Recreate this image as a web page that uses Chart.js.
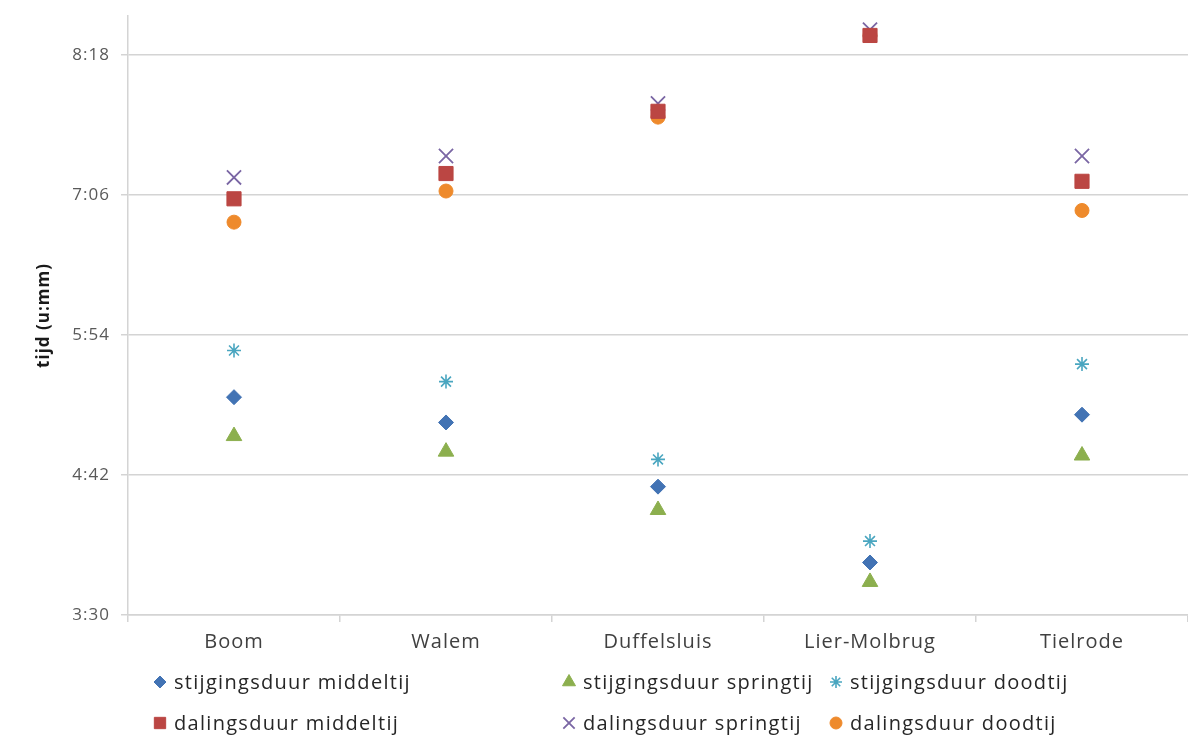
<!DOCTYPE html>
<html>
<head>
<meta charset="utf-8">
<script src="https://cdn.jsdelivr.net/npm/chart.js@4/dist/chart.umd.min.js"></script>
<style>
  html, body { margin: 0; padding: 0; background: #ffffff; }
  #wrap { width: 1188px; height: 747px; }
</style>
</head>
<body>
<div id="wrap"><canvas id="c" width="1188" height="747"></canvas></div>
<script>
// Meetpunten langs de rivier
const categories = ['Boom', 'Walem', 'Duffelsluis', 'Lier-Molbrug', 'Tielrode'];

// Duur in u:mm per meetpunt
const stijgingsduurMiddeltij = ['5:22', '5:09', '4:36', '3:57', '5:13'];
const stijgingsduurSpringtij = ['5:02', '4:54', '4:24', '3:47', '4:52'];
const stijgingsduurDoodtij   = ['5:46', '5:30', '4:50', '4:08', '5:39'];
const dalingsduurMiddeltij   = ['7:04', '7:17', '7:49', '8:28', '7:13'];
const dalingsduurSpringtij   = ['7:15', '7:26', '7:53', '8:31', '7:26'];
const dalingsduurDoodtij     = ['6:52', '7:08', '7:46', '8:28', '6:58'];

// Labels van de verticale as
const yTickLabels = ['3:30', '4:42', '5:54', '7:06', '8:18'];
const axisMin = '3:30';
const axisMax = '8:38';

function toMinutes(s) {
  const [h, m] = s.split(':').map(Number);
  return h * 60 + m;
}
function toLabel(v) {
  const h = Math.floor(v / 60);
  const m = Math.round(v - h * 60);
  return h + ':' + String(m).padStart(2, '0');
}

const FONT = '"Open Sans", "Noto Sans", sans-serif';

const series = [
  { label: 'stijgingsduur middeltij', values: stijgingsduurMiddeltij, style: 'rectRot',  color: '#4273b4', radius: 7.5, border: 1 },
  { label: 'stijgingsduur springtij', values: stijgingsduurSpringtij, style: 'triangle', color: '#8caf4e', radius: 9,   border: 1 },
  { label: 'stijgingsduur doodtij',   values: stijgingsduurDoodtij,   style: 'star',     color: '#4aa6c0', radius: 7,   border: 1.6 },
  { label: 'dalingsduur middeltij',   values: dalingsduurMiddeltij,   style: 'rect',     color: '#bb4643', radius: 10,  border: 1 },
  { label: 'dalingsduur springtij',   values: dalingsduurSpringtij,   style: 'crossRot', color: '#7a66a4', radius: 10,  border: 1.8 },
  { label: 'dalingsduur doodtij',     values: dalingsduurDoodtij,     style: 'circle',   color: '#ee8a2c', radius: 7,   border: 1 }
];

const datasets = series.map(s => ({
  label: s.label,
  data: s.values.map(toMinutes),
  showLine: false,
  pointStyle: s.style,
  pointRadius: s.radius,
  pointHoverRadius: s.radius,
  pointBorderWidth: s.border,
  pointHoverBorderWidth: s.border,
  pointBackgroundColor: s.color,
  pointBorderColor: s.color,
  backgroundColor: s.color,
  borderColor: s.color
}));

// Iets ruimere letterafstand voor alle tekst
const spacing = {
  id: 'spacing',
  beforeLayout(chart) { chart.ctx.letterSpacing = '1px'; },
  beforeDraw(chart) { chart.ctx.letterSpacing = '1px'; }
};

// Legenda in drie kolommen, twee rijen, onder de grafiek
const legendColumns = [160, 569, 836];
const legendRows = [682, 723];
const gridLegend = {
  id: 'gridLegend',
  afterDraw(chart) {
    const ctx = chart.ctx;
    ctx.save();
    series.forEach((s, i) => {
      const x = legendColumns[i % 3];
      const y = legendRows[Math.floor(i / 3)];
      ctx.fillStyle = s.color;
      ctx.strokeStyle = s.color;
      ctx.lineWidth = s.border;
      const r = s.style === 'rect' ? 8 : s.style === 'crossRot' ? 8 : s.style === 'triangle' ? 7.5 : 6;
      Chart.helpers.drawPoint(ctx, { pointStyle: s.style, radius: r, rotation: 0, borderWidth: s.border }, x, y);
      ctx.fillStyle = '#262626';
      ctx.letterSpacing = '1.3px';
      ctx.font = '20px ' + FONT;
      ctx.textAlign = 'left';
      ctx.textBaseline = 'middle';
      ctx.fillText(s.label, x + 14, y + 1);
    });
    ctx.restore();
  }
};

new Chart(document.getElementById('c'), {
  type: 'line',
  data: { labels: categories, datasets },
  plugins: [spacing, gridLegend],
  options: {
    responsive: false,
    devicePixelRatio: 1,
    animation: false,
    events: [],
    layout: { autoPadding: false, padding: { left: 28, right: 0, top: 16, bottom: 87 } },
    plugins: {
      legend: { display: false },
      tooltip: { enabled: false }
    },
    scales: {
      x: {
        type: 'category',
        offset: true,
        border: { display: true, color: '#d4d4d4', width: 1.5 },
        grid: {
          display: true,
          offset: true,
          drawOnChartArea: false,
          drawTicks: true,
          tickLength: 7,
          color: '#d4d4d4',
          lineWidth: 1.5
        },
        ticks: {
          color: '#404040',
          font: { family: FONT, size: 20 },
          padding: 8,
          maxRotation: 0,
          autoSkip: false
        },
        afterFit(scale) {
          scale.height = 45;
          scale.paddingLeft = 0;
          scale.paddingRight = 0;
        }
      },
      y: {
        min: toMinutes(axisMin),
        max: toMinutes(axisMax),
        border: { display: true, color: '#d4d4d4', width: 1.5 },
        grid: {
          color: '#d4d4d4',
          lineWidth: 1.5,
          drawTicks: true,
          tickLength: 7
        },
        ticks: {
          color: '#595959',
          font: { family: FONT, size: 17 },
          padding: 11,
          callback: v => toLabel(v)
        },
        afterBuildTicks(scale) {
          scale.ticks = yTickLabels.map(t => ({ value: toMinutes(t) }));
        },
        title: {
          display: true,
          text: 'tijd (u:mm)',
          color: '#1a1a1a',
          font: { family: FONT, size: 17, weight: 'bold' },
          padding: { top: 6, bottom: 0 }
        },
        afterFit(scale) {
          scale.width = 100;
          scale.paddingTop = 0;
          scale.paddingBottom = 0;
        }
      }
    }
  }
});
</script>
</body>
</html>
